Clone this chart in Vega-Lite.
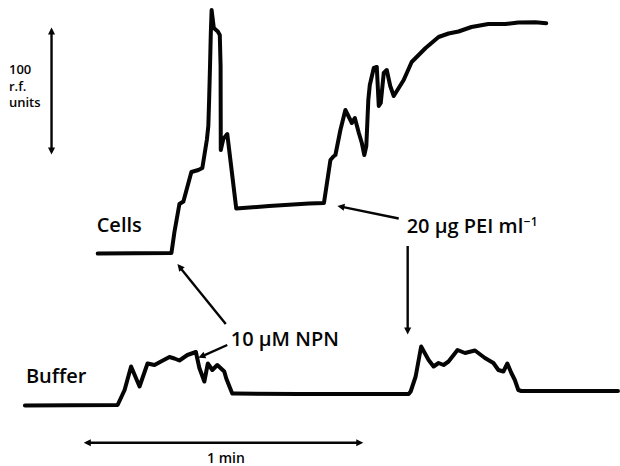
{
  "$schema": "https://vega.github.io/schema/vega-lite/v6.json",
  "width": 620,
  "height": 466,
  "padding": 0,
  "autosize": {"type": "fit", "contains": "padding"},
  "background": "white",
  "config": {"view": {"stroke": null}, "font": "Open Sans"},
  "datasets": {
    "traces": [
      {"series": "Cells", "x": 98, "y": 253.5},
      {"series": "Cells", "x": 172, "y": 253},
      {"series": "Cells", "x": 175, "y": 232},
      {"series": "Cells", "x": 180, "y": 204},
      {"series": "Cells", "x": 184, "y": 201.5},
      {"series": "Cells", "x": 192, "y": 172},
      {"series": "Cells", "x": 199, "y": 170},
      {"series": "Cells", "x": 203, "y": 168},
      {"series": "Cells", "x": 207.5, "y": 140},
      {"series": "Cells", "x": 209, "y": 126},
      {"series": "Cells", "x": 209.8, "y": 100},
      {"series": "Cells", "x": 210.7, "y": 66},
      {"series": "Cells", "x": 211.5, "y": 33},
      {"series": "Cells", "x": 212.3, "y": 10},
      {"series": "Cells", "x": 214.5, "y": 28},
      {"series": "Cells", "x": 218.5, "y": 31.5},
      {"series": "Cells", "x": 220.5, "y": 35},
      {"series": "Cells", "x": 221.3, "y": 66},
      {"series": "Cells", "x": 221.5, "y": 150},
      {"series": "Cells", "x": 224, "y": 139},
      {"series": "Cells", "x": 228, "y": 134},
      {"series": "Cells", "x": 237, "y": 208.5},
      {"series": "Cells", "x": 270, "y": 206},
      {"series": "Cells", "x": 310, "y": 203.5},
      {"series": "Cells", "x": 325, "y": 203},
      {"series": "Cells", "x": 331.5, "y": 160},
      {"series": "Cells", "x": 334.5, "y": 156.5},
      {"series": "Cells", "x": 336.5, "y": 155},
      {"series": "Cells", "x": 341.5, "y": 130},
      {"series": "Cells", "x": 346.5, "y": 110},
      {"series": "Cells", "x": 353, "y": 123},
      {"series": "Cells", "x": 356, "y": 118},
      {"series": "Cells", "x": 360, "y": 133},
      {"series": "Cells", "x": 363, "y": 143},
      {"series": "Cells", "x": 365.5, "y": 155},
      {"series": "Cells", "x": 367.5, "y": 146},
      {"series": "Cells", "x": 369.5, "y": 100},
      {"series": "Cells", "x": 371, "y": 85},
      {"series": "Cells", "x": 375, "y": 68},
      {"series": "Cells", "x": 378, "y": 67},
      {"series": "Cells", "x": 380, "y": 106},
      {"series": "Cells", "x": 382, "y": 103},
      {"series": "Cells", "x": 385, "y": 73},
      {"series": "Cells", "x": 388, "y": 70},
      {"series": "Cells", "x": 391.5, "y": 86},
      {"series": "Cells", "x": 395, "y": 96},
      {"series": "Cells", "x": 405, "y": 80},
      {"series": "Cells", "x": 413, "y": 62},
      {"series": "Cells", "x": 427, "y": 48},
      {"series": "Cells", "x": 440, "y": 37},
      {"series": "Cells", "x": 450, "y": 33.5},
      {"series": "Cells", "x": 460, "y": 31.5},
      {"series": "Cells", "x": 473, "y": 27},
      {"series": "Cells", "x": 490, "y": 24},
      {"series": "Cells", "x": 507, "y": 24},
      {"series": "Cells", "x": 520, "y": 22.5},
      {"series": "Cells", "x": 537, "y": 22.3},
      {"series": "Cells", "x": 548, "y": 23.3},
      {"series": "Buffer", "x": 25, "y": 405.5},
      {"series": "Buffer", "x": 118, "y": 405},
      {"series": "Buffer", "x": 125, "y": 390},
      {"series": "Buffer", "x": 131.5, "y": 366.5},
      {"series": "Buffer", "x": 140, "y": 386.5},
      {"series": "Buffer", "x": 148, "y": 363.5},
      {"series": "Buffer", "x": 155, "y": 365},
      {"series": "Buffer", "x": 161.5, "y": 361.5},
      {"series": "Buffer", "x": 170, "y": 357},
      {"series": "Buffer", "x": 175, "y": 358.5},
      {"series": "Buffer", "x": 180, "y": 360.5},
      {"series": "Buffer", "x": 188, "y": 355},
      {"series": "Buffer", "x": 196.5, "y": 352},
      {"series": "Buffer", "x": 200, "y": 368},
      {"series": "Buffer", "x": 205, "y": 381.5},
      {"series": "Buffer", "x": 208.5, "y": 363.5},
      {"series": "Buffer", "x": 213, "y": 370},
      {"series": "Buffer", "x": 218, "y": 365},
      {"series": "Buffer", "x": 225, "y": 371.5},
      {"series": "Buffer", "x": 227, "y": 378.5},
      {"series": "Buffer", "x": 233, "y": 393.5},
      {"series": "Buffer", "x": 237, "y": 393.5},
      {"series": "Buffer", "x": 300, "y": 394},
      {"series": "Buffer", "x": 410, "y": 394},
      {"series": "Buffer", "x": 412, "y": 391.5},
      {"series": "Buffer", "x": 417, "y": 376.5},
      {"series": "Buffer", "x": 422.5, "y": 346.5},
      {"series": "Buffer", "x": 430, "y": 360},
      {"series": "Buffer", "x": 435, "y": 366.5},
      {"series": "Buffer", "x": 440, "y": 363},
      {"series": "Buffer", "x": 445, "y": 365},
      {"series": "Buffer", "x": 450, "y": 361.5},
      {"series": "Buffer", "x": 459, "y": 350},
      {"series": "Buffer", "x": 466.5, "y": 353},
      {"series": "Buffer", "x": 476.5, "y": 350.5},
      {"series": "Buffer", "x": 486.5, "y": 358},
      {"series": "Buffer", "x": 495, "y": 363},
      {"series": "Buffer", "x": 500, "y": 370},
      {"series": "Buffer", "x": 505, "y": 371.5},
      {"series": "Buffer", "x": 509, "y": 363.5},
      {"series": "Buffer", "x": 513, "y": 373},
      {"series": "Buffer", "x": 516.5, "y": 380},
      {"series": "Buffer", "x": 520, "y": 390},
      {"series": "Buffer", "x": 523, "y": 391},
      {"series": "Buffer", "x": 540, "y": 391},
      {"series": "Buffer", "x": 620, "y": 391}
    ],
    "arrows": [
      {"name": "scale100", "x": 51.7, "y": 31, "x2": 51.7, "y2": 150},
      {"name": "min", "x": 87, "y": 442.7, "x2": 361, "y2": 442.7},
      {"name": "npn_cells", "x": 226.5, "y": 324, "x2": 181, "y2": 268},
      {"name": "npn_buffer", "x": 228, "y": 345, "x2": 202.5, "y2": 356.3},
      {"name": "pei_cells", "x": 400, "y": 218.5, "x2": 342, "y2": 206.6},
      {"name": "pei_buffer", "x": 409, "y": 246, "x2": 409, "y2": 330}
    ],
    "heads": [
      {"name": "scale100_top", "x": 51.7, "y": 27.5, "a": 0},
      {"name": "scale100_bottom", "x": 51.7, "y": 154.5, "a": 180},
      {"name": "min_left", "x": 84, "y": 442.7, "a": 270},
      {"name": "min_right", "x": 364.5, "y": 442.7, "a": 90},
      {"name": "npn_cells", "x": 178, "y": 264, "a": 320},
      {"name": "npn_buffer", "x": 199, "y": 357.8, "a": 247},
      {"name": "pei_cells", "x": 338.5, "y": 205.9, "a": 281},
      {"name": "pei_buffer", "x": 409, "y": 334.5, "a": 180}
    ],
    "texts": [
      {"group": "big", "x": 97, "y": 231.5, "label": "Cells"},
      {"group": "big", "x": 26, "y": 383.3, "label": "Buffer"},
      {"group": "big", "x": 231.5, "y": 346, "label": "10 μM NPN"},
      {"group": "big", "x": 408, "y": 232.6, "label": "20 μg PEI ml"},
      {"group": "sup", "x": 525.5, "y": 226.2, "label": "−1"},
      {"group": "small", "x": 9, "y": 73.5, "label": "100"},
      {"group": "small", "x": 9, "y": 90.5, "label": "r.f."},
      {"group": "small", "x": 9, "y": 107, "label": "units"},
      {"group": "center", "x": 226.7, "y": 462.7, "label": "1 min"}
    ]
  },
  "layer": [
    {
      "data": {"name": "traces"},
      "mark": {"type": "line", "color": "#050505", "strokeWidth": 4, "strokeJoin": "round", "strokeCap": "round"},
      "encoding": {
        "x": {"field": "x", "type": "quantitative", "scale": {"domain": [0, 620], "nice": false, "zero": false}, "axis": null},
        "y": {"field": "y", "type": "quantitative", "scale": {"domain": [0, 466], "reverse": true, "nice": false, "zero": false}, "axis": null},
        "detail": {"field": "series"}
      }
    },
    {
      "data": {"name": "arrows"},
      "mark": {"type": "rule", "color": "#050505", "strokeWidth": 2.4},
      "encoding": {
        "x": {"field": "x", "type": "quantitative", "scale": {"domain": [0, 620], "nice": false, "zero": false}, "axis": null},
        "y": {"field": "y", "type": "quantitative", "scale": {"domain": [0, 466], "reverse": true, "nice": false, "zero": false}, "axis": null},
        "x2": {"field": "x2"},
        "y2": {"field": "y2"}
      }
    },
    {
      "data": {"name": "heads"},
      "mark": {"type": "point", "shape": "M0,0 L0.5,1 L-0.5,1 Z", "filled": true, "color": "#050505", "opacity": 1, "size": 200, "strokeWidth": 0},
      "encoding": {
        "x": {"field": "x", "type": "quantitative", "scale": {"domain": [0, 620], "nice": false, "zero": false}, "axis": null},
        "y": {"field": "y", "type": "quantitative", "scale": {"domain": [0, 466], "reverse": true, "nice": false, "zero": false}, "axis": null},
        "angle": {"field": "a", "type": "quantitative", "scale": null}
      }
    },
    {
      "data": {"name": "texts"},
      "transform": [{"filter": "datum.group === 'big'"}],
      "mark": {"type": "text", "align": "left", "baseline": "alphabetic", "fontSize": 20, "fontWeight": 600, "font": "Open Sans", "color": "#050505"},
      "encoding": {
        "x": {"field": "x", "type": "quantitative", "scale": {"domain": [0, 620], "nice": false, "zero": false}, "axis": null},
        "y": {"field": "y", "type": "quantitative", "scale": {"domain": [0, 466], "reverse": true, "nice": false, "zero": false}, "axis": null},
        "text": {"field": "label"}
      }
    },
    {
      "data": {"name": "texts"},
      "transform": [{"filter": "datum.group === 'sup'"}],
      "mark": {"type": "text", "align": "left", "baseline": "alphabetic", "fontSize": 12, "fontWeight": 600, "font": "Open Sans", "color": "#050505"},
      "encoding": {
        "x": {"field": "x", "type": "quantitative", "scale": {"domain": [0, 620], "nice": false, "zero": false}, "axis": null},
        "y": {"field": "y", "type": "quantitative", "scale": {"domain": [0, 466], "reverse": true, "nice": false, "zero": false}, "axis": null},
        "text": {"field": "label"}
      }
    },
    {
      "data": {"name": "texts"},
      "transform": [{"filter": "datum.group === 'small'"}],
      "mark": {"type": "text", "align": "left", "baseline": "alphabetic", "fontSize": 13, "fontWeight": 600, "font": "Open Sans", "color": "#050505"},
      "encoding": {
        "x": {"field": "x", "type": "quantitative", "scale": {"domain": [0, 620], "nice": false, "zero": false}, "axis": null},
        "y": {"field": "y", "type": "quantitative", "scale": {"domain": [0, 466], "reverse": true, "nice": false, "zero": false}, "axis": null},
        "text": {"field": "label"}
      }
    },
    {
      "data": {"name": "texts"},
      "transform": [{"filter": "datum.group === 'center'"}],
      "mark": {"type": "text", "align": "center", "baseline": "alphabetic", "fontSize": 14, "fontWeight": 600, "font": "Open Sans", "color": "#050505"},
      "encoding": {
        "x": {"field": "x", "type": "quantitative", "scale": {"domain": [0, 620], "nice": false, "zero": false}, "axis": null},
        "y": {"field": "y", "type": "quantitative", "scale": {"domain": [0, 466], "reverse": true, "nice": false, "zero": false}, "axis": null},
        "text": {"field": "label"}
      }
    }
  ]
}
